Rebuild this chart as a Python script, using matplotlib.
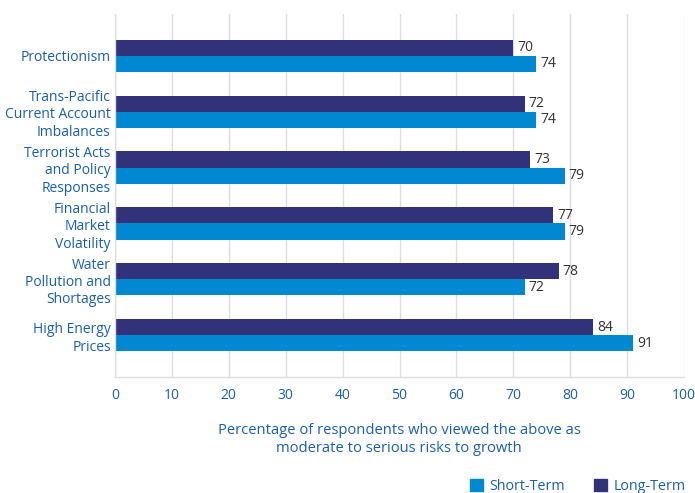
import matplotlib
matplotlib.use("Agg")
import matplotlib.pyplot as plt
from matplotlib.patches import Patch
import numpy as np

plt.rcParams['font.family'] = ['Open Sans', 'DejaVu Sans']

categories = ["Protectionism", "Trans-Pacific\nCurrent Account\nImbalances",
              "Terrorist Acts\nand Policy\nResponses", "Financial\nMarket\nVolatility",
              "Water\nPollution and\nShortages", "High Energy\nPrices"]
long_term = [70, 72, 73, 77, 78, 84]
short_term = [74, 74, 79, 79, 72, 91]
xticks = [0, 10, 20, 30, 40, 50, 60, 70, 80, 90, 100]

c_short = "#0089d0"
c_long = "#32327a"
c_text = "#1a5ea8"

fig = plt.figure(figsize=(6.95, 4.93), dpi=100)
ax = fig.add_axes([115/695, 1-377/493, (684-115)/695, (377-14)/493])

y = np.arange(len(categories))
h = 0.29
ax.barh(y - h/2, long_term, height=h, color=c_long)
ax.barh(y + h/2, short_term, height=h, color=c_short)
for yi, v in zip(y, long_term):
    ax.text(v + 0.7, yi - h/2, str(v), va='center', ha='left', fontsize=10, color="#333333")
for yi, v in zip(y, short_term):
    ax.text(v + 0.7, yi + h/2, str(v), va='center', ha='left', fontsize=10, color="#333333")

ax.set_ylim(len(categories) - 0.25, -0.75)
ax.set_xlim(0, 100)
ax.set_xticks(xticks)
ax.set_xticklabels([str(t) for t in xticks], color=c_text, fontsize=10)
ax.set_yticks(y)
ax.set_yticklabels(categories, color=c_text, fontsize=10, linespacing=1.22)
ax.tick_params(length=0)
ax.tick_params(axis='y', pad=3)
ax.tick_params(axis='x', pad=8)
ax.grid(axis='x', color="#dddddd", linewidth=1)
ax.set_axisbelow(True)
for s in ['top', 'right']:
    ax.spines[s].set_visible(False)
for s in ['left', 'bottom']:
    ax.spines[s].set_color("#dddddd")
    ax.spines[s].set_linewidth(1)

fig.text(399/695, 1-439.5/493, "Percentage of respondents who viewed the above as\nmoderate to serious risks to growth",
         ha='center', va='center', color=c_text, fontsize=10.6, linespacing=1.2)

handles = [Patch(color=c_short, label="Short-Term"), Patch(color=c_long, label="Long-Term")]
fig.legend(handles=handles, loc='center right', bbox_to_anchor=(699/695, 1-486/493), ncol=2,
           frameon=False, fontsize=10.3, labelcolor=c_text, handlelength=0.9, handleheight=0.9,
           columnspacing=2.0, handletextpad=0.5)

fig.savefig("out.png", dpi=100)
